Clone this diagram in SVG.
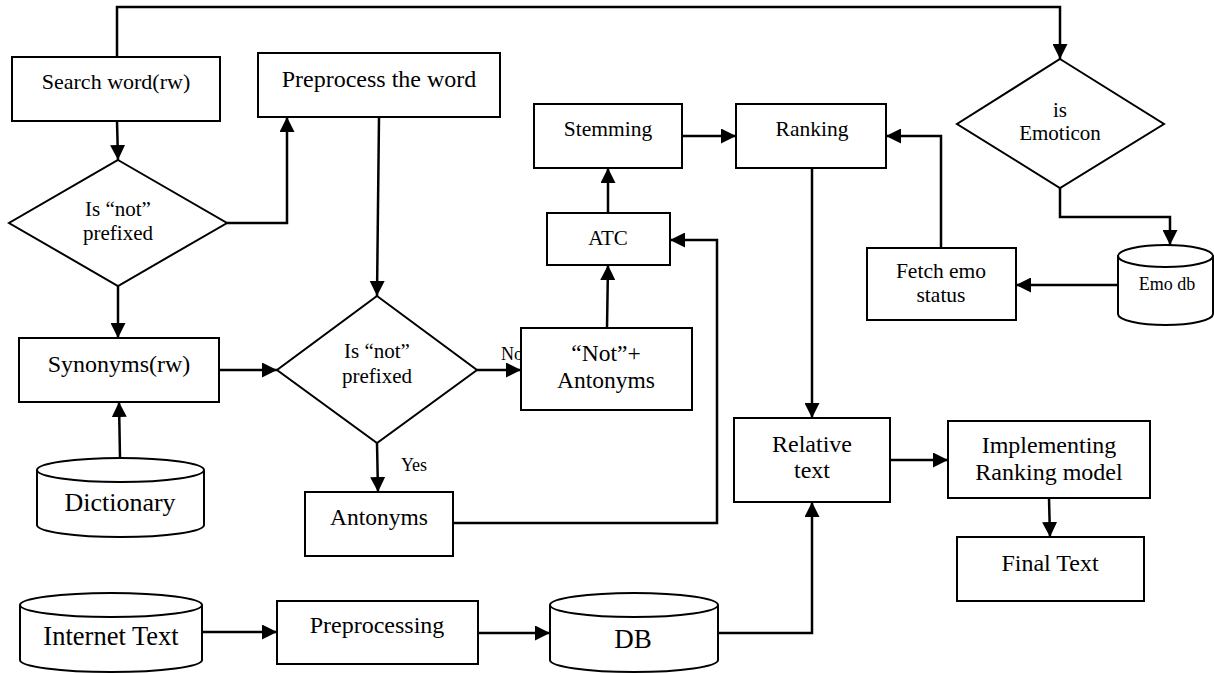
<svg xmlns="http://www.w3.org/2000/svg" width="1214" height="673" viewBox="0 0 1214 673" font-family="'Liberation Serif', 'Times New Roman', serif">
<style>
.box{fill:#fff;stroke:#000;stroke-width:2}
.ln{fill:none;stroke:#000;stroke-width:2.5;marker-end:url(#ah)}
.t{font-family:'Liberation Serif','Times New Roman',serif;fill:#000;text-anchor:middle}
.s{font-family:'Liberation Serif','Times New Roman',serif;fill:#000;text-anchor:start}
</style>
<defs>
<marker id="ah" markerUnits="userSpaceOnUse" markerWidth="15" markerHeight="15" refX="15" refY="7.5" orient="auto">
<path d="M0,0 L15,7.5 L0,15 z" fill="#000"/>
</marker>
</defs>
<rect width="1214" height="673" fill="#fff"/>
<g id="label-no"><text class="s" x="501" y="360" font-size="18">No</text></g>
<g id="connectors">
<path class="ln" d="M117,57 L117,7 L1060,7 L1060,59"/>
<path class="ln" d="M117,121 L118,160"/>
<path class="ln" d="M227,223 L287,223 L287,117"/>
<path class="ln" d="M379,117 L377,296"/>
<path class="ln" d="M118,286 L118,338"/>
<path class="ln" d="M120,458 L119,402"/>
<path class="ln" d="M219,370 L277,370"/>
<path class="ln" d="M477,370 L521,370"/>
<path class="ln" d="M377,443 L378,492"/>
<path class="ln" d="M453,523 L717,523 L717,240 L670,240"/>
<path class="ln" d="M607,328 L608,265"/>
<path class="ln" d="M608,213 L608,168"/>
<path class="ln" d="M682,136 L736,136"/>
<path class="ln" d="M941,248 L941,136 L886,136"/>
<path class="ln" d="M1060,188 L1060,217 L1170,217 L1170,245"/>
<path class="ln" d="M1118,285 L1016,285"/>
<path class="ln" d="M812,168 L812,418"/>
<path class="ln" d="M890,460 L948,460"/>
<path class="ln" d="M1049,498 L1050,537"/>
<path class="ln" d="M202,632 L277,632"/>
<path class="ln" d="M478,633 L550,633"/>
<path class="ln" d="M718,633 L812,633 L812,502"/>
</g>
<g id="search"><rect class="box" x="12" y="57" width="208" height="64"/><text class="t" x="116" y="89" font-size="22">Search word(rw)</text></g>
<g id="preprocess-word"><rect class="box" x="258" y="53" width="242" height="64"/><text class="t" x="379" y="87" font-size="24">Preprocess the word</text></g>
<g id="not-prefixed-1"><polygon class="box" points="118,160 227,223 118,286 9,223"/><text class="t" x="118" y="216" font-size="21">Is “not”</text><text class="t" x="118" y="240" font-size="21">prefixed</text></g>
<g id="synonyms"><rect class="box" x="19" y="338" width="200" height="64"/><text class="t" x="119" y="372" font-size="24">Synonyms(rw)</text></g>
<g id="dictionary"><path class="box" d="M37,470 L37,525 A83.5,12 0 0 0 204,525 L204,470"/><ellipse class="box" cx="120.5" cy="470" rx="83.5" ry="12"/><text class="t" x="120" y="511" font-size="26">Dictionary</text></g>
<g id="not-prefixed-2"><polygon class="box" points="377,296 477,370 377,443 277,370"/><text class="t" x="377" y="358" font-size="21">Is “not”</text><text class="t" x="377" y="383" font-size="21">prefixed</text></g>
<g id="label-yes"><text class="t" x="414" y="471" font-size="18">Yes</text></g>
<g id="antonyms"><rect class="box" x="305" y="492" width="148" height="64"/><text class="t" x="379" y="525" font-size="23.5">Antonyms</text></g>
<g id="internet-text"><path class="box" d="M20,605 L20,660 A91,12 0 0 0 202,660 L202,605"/><ellipse class="box" cx="111" cy="605" rx="91" ry="12"/><text class="t" x="111" y="645" font-size="26.5">Internet Text</text></g>
<g id="preprocessing"><rect class="box" x="277" y="601" width="201" height="63"/><text class="t" x="377" y="633" font-size="24">Preprocessing</text></g>
<g id="db"><path class="box" d="M550,605 L550,660 A84,12 0 0 0 718,660 L718,605"/><ellipse class="box" cx="634" cy="605" rx="84" ry="12"/><text class="t" x="633" y="648" font-size="27">DB</text></g>
<g id="stemming"><rect class="box" x="534" y="104" width="148" height="64"/><text class="t" x="608" y="136" font-size="21.5">Stemming</text></g>
<g id="ranking"><rect class="box" x="736" y="104" width="150" height="64"/><text class="t" x="812" y="136" font-size="21.5">Ranking</text></g>
<g id="atc"><rect class="box" x="547" y="213" width="123" height="52"/><text class="t" x="608" y="245" font-size="21">ATC</text></g>
<g id="not-antonyms"><rect class="box" x="521" y="328" width="171" height="82"/><text class="t" x="606" y="361" font-size="23.5">“Not”+</text><text class="t" x="606" y="388" font-size="23.5">Antonyms</text></g>
<g id="relative-text"><rect class="box" x="734" y="418" width="156" height="84"/><text class="t" x="812" y="452" font-size="24">Relative</text><text class="t" x="812" y="478" font-size="24">text</text></g>
<g id="implementing"><rect class="box" x="948" y="421" width="202" height="77"/><text class="t" x="1049" y="453" font-size="24">Implementing</text><text class="t" x="1049" y="480" font-size="24">Ranking model</text></g>
<g id="final-text"><rect class="box" x="957" y="537" width="187" height="64"/><text class="t" x="1050" y="571" font-size="24">Final Text</text></g>
<g id="is-emoticon"><polygon class="box" points="1060,59 1164,124 1060,188 957,124"/><text class="t" x="1060" y="117" font-size="21">is</text><text class="t" x="1060" y="140" font-size="21">Emoticon</text></g>
<g id="emo-db"><path class="box" d="M1118,256 L1118,314 A47.5,11 0 0 0 1213,314 L1213,256"/><ellipse class="box" cx="1165.5" cy="256" rx="47.5" ry="11"/><text class="t" x="1167" y="290" font-size="18">Emo db</text></g>
<g id="fetch-emo"><rect class="box" x="867" y="248" width="149" height="72"/><text class="t" x="941" y="278" font-size="21.5">Fetch emo</text><text class="t" x="941" y="302" font-size="21.5">status</text></g>
</svg>
